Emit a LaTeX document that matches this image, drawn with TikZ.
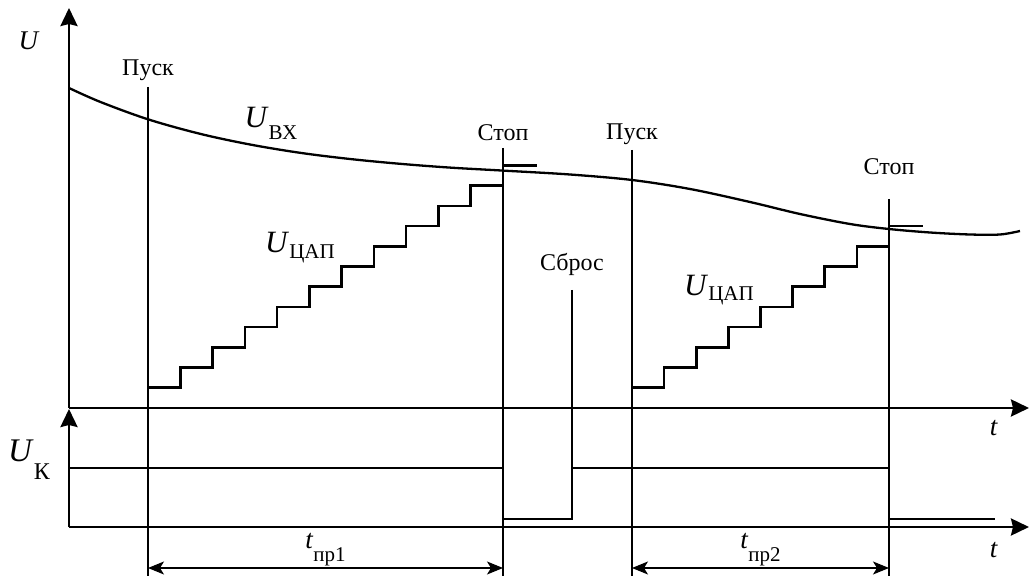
\documentclass[tikz,border=0pt]{standalone}
\usepackage{fontspec}
\setmainfont{Liberation Serif}
\usetikzlibrary{arrows.meta,positioning}
% main letter, drop of the index, index size, index text
\newcommand{\quant}[4]{\textit{#1}\raisebox{-#2}{\fontsize{#3}{#3}\selectfont #4}}
\tikzset{
    plotaxis/.style={line width=2.8pt,-{Stealth[length=18pt,width=17pt,inset=2pt]}},
    signalline/.style={line width=2.3pt},
    stairline/.style={line width=2.6pt},
    curveline/.style={line width=2.3pt},
    markline/.style={line width=1.2pt},
    marklabel/.style={font=\fontsize{24}{24}\selectfont,inner sep=0pt},
    quantlabel/.style={font=\fontsize{31}{31}\selectfont,inner sep=0pt},
    timelabel/.style={font=\fontsize{27}{27}\selectfont,inner sep=0pt},
    dimline/.style={line width=1.2pt,{Stealth[length=16pt,width=13pt,inset=4pt]}-{Stealth[length=16pt,width=13pt,inset=4pt]}}
}

\begin{document}
\begin{tikzpicture}[x=1pt,y=-1pt]
    \useasboundingbox (0,0) rectangle (1029,577);
    % axes
    \coordinate (O1) at (69,408);
    \coordinate (O2) at (69,527);
    \coordinate (Uend) at (69,8);
    \coordinate (Ukend) at (69,409);
    \coordinate (t1end) at (1029,408);
    \coordinate (t2end) at (1029,527);
    \coordinate (bottom) at (0,576);
    \coordinate (dimlevel) at (0,568);
    \coordinate (high) at (0,468);
    \coordinate (low) at (0,519);
    \draw[plotaxis] (O1) -- (Uend);
    \draw[plotaxis] (O1) -- (t1end);
    \draw[plotaxis] (O2) -- (Ukend);
    \draw[plotaxis] (O2) -- (t2end);
    \node[timelabel] (Ulbl) at (29,41) {\textit{U}};
    \node[quantlabel] (Uklbl) at (29,460) {\fontsize{33}{33}\selectfont\quant{U}{18pt}{24}{К}};
    \node[timelabel] (t1lbl) at (994,428) {\textit{t}};
    \node[timelabel] (t2lbl) at (994,550) {\textit{t}};
    % event marks
    \coordinate (start1 top) at (148,87);
    \coordinate (stop1 top) at (503,148);
    \coordinate (reset top) at (572,290);
    \coordinate (start2 top) at (632,150);
    \coordinate (stop2 top) at (889,199);
    \node[marklabel,above=6pt of start1 top] (start1) {Пуск};
    \node[marklabel,above=7pt of stop1 top] (stop1) {Стоп};
    \node[marklabel,above=14pt of reset top] (reset) {Сброс};
    \node[marklabel,above=5pt of start2 top] (start2) {Пуск};
    \node[marklabel,above=24pt of stop2 top] (stop2) {Стоп};
    \draw[markline] (start1 top) -- (start1 top |- bottom);
    \draw[markline] (stop1 top) -- (stop1 top |- bottom);
    \draw[markline] (start2 top) -- (start2 top |- bottom);
    \draw[markline] (stop2 top) -- (stop2 top |- bottom);
    \draw[markline] (reset top) -- (reset top |- high);
    % input voltage
    \draw[curveline] plot[smooth,tension=0.55] coordinates {(69,88) (100,101.8) (148,119.3) (200,133.8)
        (250,144.5) (300,152.8) (350,159) (400,163.8) (450,167.6) (503,170.6) (570,174.5) (632,180)
        (690,189) (750,202) (800,214) (850,224) (889,229) (930,232.5) (970,234.5) (1000,234.5) (1020,231)};
    \node[quantlabel] (Uin) at (271,123) {\quant{U}{12pt}{21}{ВХ}};
    % DAC staircases
    \draw[stairline] (start1 top |- O1) \foreach \k in {1,...,11} { -- ++(0,-20.2) -- ++(32.27,0) }
        -- ++(0,-20.2) -- ++(34,0);
    \draw[stairline] (start2 top |- O1) \foreach \k in {1,...,8} { -- ++(0,-20.2) -- ++(32.12,0) }
        -- ++(0,-20.2) -- ++(34,0);
    \node[quantlabel] (Udac1) at (300,248) {\quant{U}{6pt}{21}{ЦАП}};
    \node[quantlabel] (Udac2) at (719,290) {\quant{U}{5pt}{21}{ЦАП}};
    % comparator output
    \draw[signalline] (O1 |- high) -| (stop1 top |- low) -| (reset top |- high) -| (stop2 top |- low) -- ++(106,0);
    % conversion times
    \draw[dimline] (start1 top |- dimlevel) -- node[timelabel,above=1pt] (tc1) {\quant{t}{13pt}{21}{пр1}} (stop1 top |- dimlevel);
    \draw[dimline] (start2 top |- dimlevel) -- node[timelabel,above=1pt] (tc2) {\quant{t}{13pt}{21}{пр2}} (stop2 top |- dimlevel);
\end{tikzpicture}
\end{document}
